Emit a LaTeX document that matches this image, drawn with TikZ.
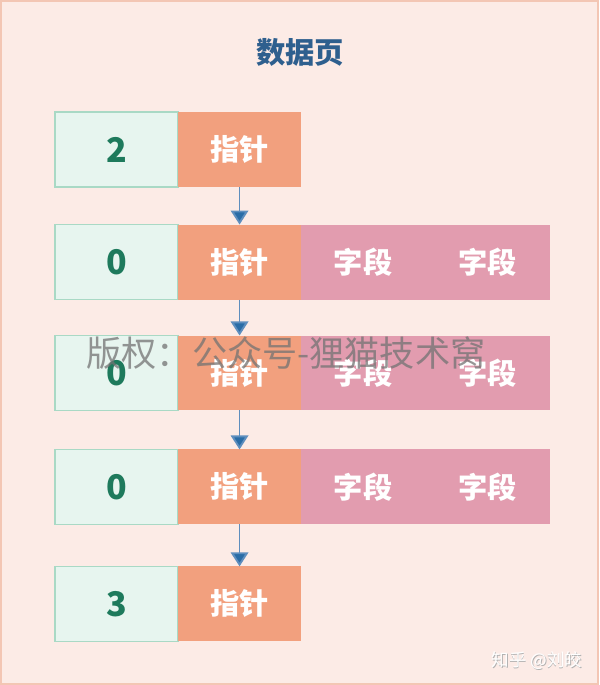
\documentclass[tikz,border=0pt]{standalone}
\usepackage{fontspec}
\newfontfamily\cjk{Noto Sans CJK SC}
\usetikzlibrary{positioning,arrows.meta}
\definecolor{pagebg}{HTML}{FCEBE6}
\definecolor{pageline}{HTML}{F3C6B4}
\definecolor{numfill}{HTML}{E7F5EF}
\definecolor{numline}{HTML}{A9D9C5}
\definecolor{numtext}{HTML}{1E7A5C}
\definecolor{ptrfill}{HTML}{F2A07E}
\definecolor{fldfill}{HTML}{E29CAF}
\definecolor{titletext}{HTML}{2E5F8E}
\definecolor{arrowblue}{HTML}{2A6CA6}
\definecolor{linkblue}{HTML}{5E8EBE}
\begin{document}
\begin{tikzpicture}[x=0.03cm,y=-0.03cm,
				every node/.style={inner sep=0pt,outer sep=0pt},
				num/.style={draw=numline,line width=1.3pt,fill=numfill,minimum width=3.69cm,minimum height=2.25cm,font=\cjk\bfseries\fontsize{29}{29}\selectfont,text=numtext},
				ptr/.style={fill=ptrfill,minimum width=3.69cm,minimum height=2.25cm,font=\cjk\bfseries\fontsize{25}{25}\selectfont,text=white},
				fld/.style={fill=fldfill,minimum width=3.735cm,minimum height=2.25cm,font=\cjk\bfseries\fontsize{25}{25}\selectfont,text=white},
				link/.style={draw=linkblue,line width=1.6pt,-{Triangle[length=12pt,width=15pt,fill=arrowblue]}}]
\fill[pagebg,draw=pageline,line width=2pt] (1,1) rectangle (598,684);
\useasboundingbox (0,0) rectangle (599,685);
\node[font=\cjk\bfseries\fontsize{25}{25}\selectfont,text=titletext] (title) at (300,52) {数据页};
% rows
\node[num] (n1) at (116.5,149.5) {2};
\node[ptr,right=0pt of n1] (p1) {指针};
\node[num] (n2) at (116.5,262) {0};
\node[ptr,right=0pt of n2] (p2) {指针};
\node[fld,right=0pt of p2] (f2a) {字段};
\node[fld,right=0pt of f2a] (f2b) {字段};
\node[num] (n3) at (116.5,373) {0};
\node[ptr,right=0pt of n3] (p3) {指针};
\node[fld,right=0pt of p3] (f3a) {字段};
\node[fld,right=0pt of f3a] (f3b) {字段};
\node[num] (n4) at (116.5,487) {0};
\node[ptr,right=0pt of n4] (p4) {指针};
\node[fld,right=0pt of p4] (f4a) {字段};
\node[fld,right=0pt of f4a] (f4b) {字段};
\node[num] (n5) at (116.5,604) {3};
\node[ptr,right=0pt of n5] (p5) {指针};
% links
\foreach \a/\b in {p1/p2,p2/p3,p3/p4,p4/p5}
	\draw[link] (\a.south) -- (\b.north);
% watermarks
\node[font=\cjk\fontsize{30}{30}\selectfont,text=black!55,opacity=0.75] (mark) at (286,353) {版权：公众号-狸猫技术窝};
\node[font=\cjk\fontsize{15}{15}\selectfont,text=black!30] at (537.6,661.6) {知乎 @刘皎};
\node[font=\cjk\fontsize{15}{15}\selectfont,text=white] (sign) at (537,661) {知乎 @刘皎};
\end{tikzpicture}
\end{document}
